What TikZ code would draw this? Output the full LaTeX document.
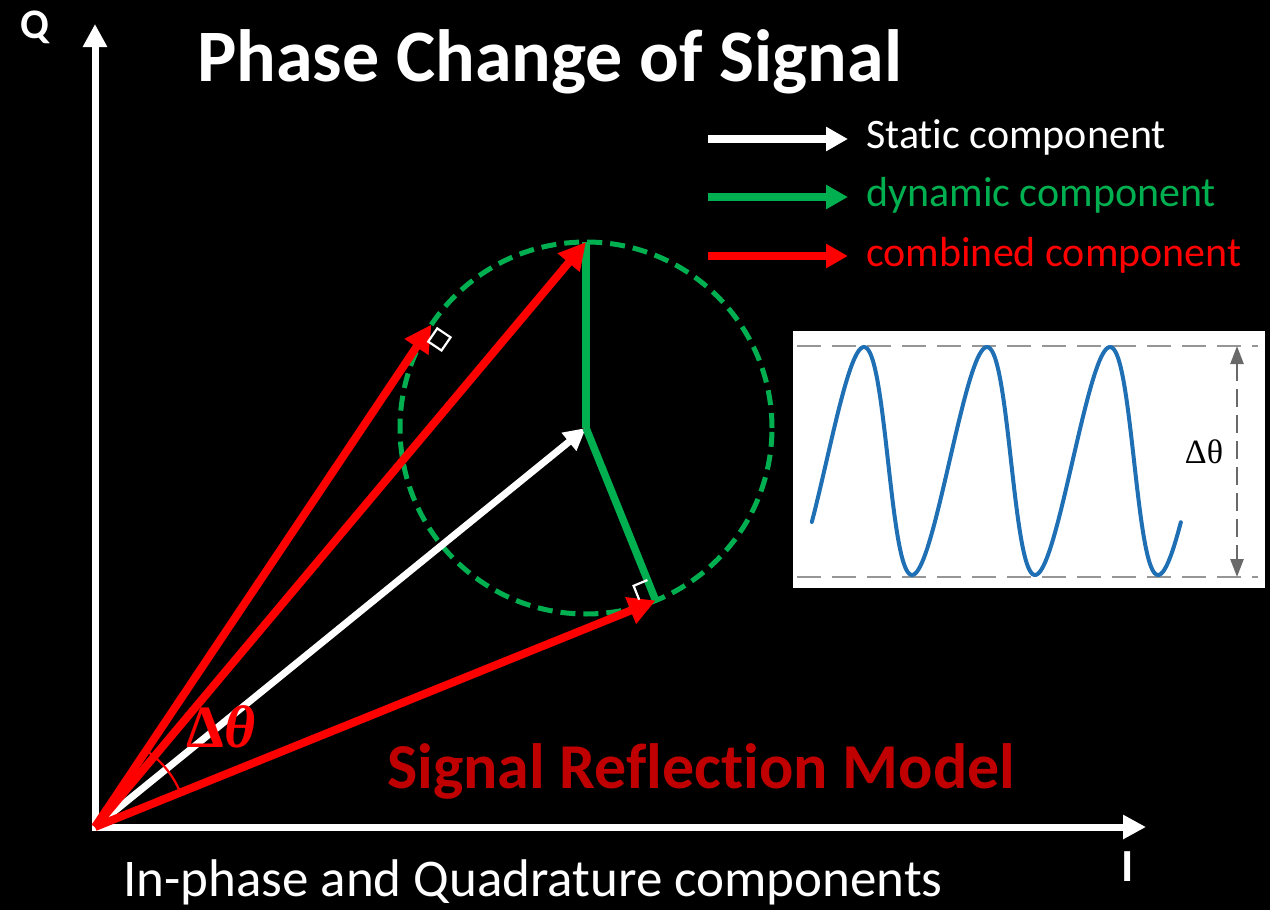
\documentclass[tikz,border=0pt]{standalone}
\usepackage{fontspec}
\setmainfont{Carlito}[Ligatures={TeX,NoCommon}]
\newfontfamily\timesfont{Liberation Serif}
\usetikzlibrary{arrows.meta,calc}
\definecolor{pptgreen}{RGB}{0,176,80}
\definecolor{pptred}{RGB}{255,0,0}
\definecolor{darkred}{RGB}{192,0,0}
\definecolor{waveblue}{RGB}{31,111,180}
\definecolor{guidegray}{RGB}{150,150,150}
\definecolor{spangray}{RGB}{105,105,105}

\begin{document}
\begin{tikzpicture}[x=1pt, y=-1pt,
  axis/.style={white, line width=7pt, -{Triangle[length=23pt, width=23pt]}},
  static/.style={white, line width=7pt, -{Triangle[length=22pt, width=22pt]}},
  dynamic/.style={pptgreen, line width=7.5pt},
  combined/.style={pptred, line width=8pt, -{Triangle[length=27pt, width=27pt]}},
  legarr/.style={line width=8pt, -{Triangle[length=22pt, width=23pt]}},
  legtxt/.style={anchor=base west, inner sep=0pt, font=\fontsize{42}{44}\selectfont},
  rmark/.style={white, line width=2.2pt},
  guide/.style={guidegray, line width=2pt, dash pattern=on 24pt off 11pt}
]

%% -- background and frame --------------------------------------
\fill[black] (0,0) rectangle (1270,910);

%% -- axes ------------------------------------------------------
\coordinate (O) at (95,827);
\coordinate (qend) at (95,24);
\coordinate (iend) at (1146,827);
\draw[axis, shorten <=-3.5pt] (O) -- (qend);
\draw[axis, shorten <=-3.5pt] (O) -- (iend);
\node[white, anchor=base, inner sep=0pt, font=\bfseries\fontsize{42}{44}\selectfont] (qlab) at (35,38) {Q};
\node[white, anchor=base, inner sep=0pt, font=\bfseries\fontsize{46}{48}\selectfont] (ilab) at (1128,881) {I};

%% -- title and captions ----------------------------------------
\node[white, anchor=base west, inner sep=0pt, font=\bfseries\fontsize{74}{76}\selectfont] (title) at (197,81) {Phase Change of Signal};
\node[darkred, anchor=base west, inner sep=0pt, font=\bfseries\fontsize{64}{66}\selectfont] (model) at (387,788) {Signal Reflection Model};
\node[white, anchor=base west, inner sep=0pt, font=\fontsize{53}{55}\selectfont] (iq) at (123,896) {In-phase and Quadrature components};

%% -- legend ----------------------------------------------------
\node[legtxt, white] (lstatic) at (866,148) {Static component};
\node[legtxt, pptgreen] (ldynamic) at (866,206) {dynamic component};
\node[legtxt, pptred] (lcombined) at (866,266) {combined component};
\coordinate (lsa) at (708,139);
\coordinate (lsb) at (848,139);
\coordinate (lda) at (708,197);
\coordinate (ldb) at (848,197);
\coordinate (lca) at (708,256);
\coordinate (lcb) at (848,256);
\draw[legarr, white] (lsa) -- (lsb);
\draw[legarr, pptgreen] (lda) -- (ldb);
\draw[legarr, pptred] (lca) -- (lcb);

%% -- dynamic circle and tangent points -------------------------
\node[circle, draw=pptgreen, line width=5pt, dash pattern=on 15pt off 8pt,
      minimum size=372pt, inner sep=0pt, outer sep=0pt] (circ) at (586,428) {};
\coordinate (t1) at (tangent cs:node=circ, point={(O)}, solution=2);
\coordinate (t2) at (tangent cs:node=circ, point={(O)}, solution=1);

%% -- vectors ---------------------------------------------------
\draw[static] (O) -- (circ.center);
\draw[dynamic] (circ.center) -- (circ.north);
\draw[dynamic] (circ.center) -- (t2);
\draw[combined] (O) -- (t1);
\draw[combined] (O) -- (circ.north);
\draw[combined] (O) -- (t2);

%% right angle marks
\coordinate (t1o) at ($(t1)!7pt!(circ.center)$);
\coordinate (t1a) at ($(t1o)!16pt!(O)$);
\coordinate (t1b) at ($(t1o)!16pt!(circ.center)$);
\draw[rmark] (t1a) -- ($(t1a)+(t1b)-(t1o)$) -- (t1b) -- (t1o) -- cycle;
\coordinate (t2o) at ($(t2)!7pt!(circ.center)$);
\coordinate (t2a) at ($(t2o)!15pt!(O)$);
\coordinate (t2b) at ($(t2o)!15pt!(circ.center)$);
\draw[rmark] (t2a) -- ($(t2a)+(t2b)-(t2o)$) -- (t2b);

%% phase angle
\draw[pptred, line width=2.2pt] ($(O)+(-22:92)$) arc[start angle=-22, end angle=-56, radius=92];
\node[pptred, font=\timesfont\bfseries\fontsize{60}{62}\selectfont] (dtheta) at (221,727) {Δ\textit{θ}};

%% -- inset: phase over time ------------------------------------
\node[fill=white, anchor=north west, inner sep=0pt, minimum width=472pt, minimum height=257pt] (inset) at (793,331) {};
\draw[guide] (797,346) -- (1258,346);
\draw[guide] (797,577) -- (1258,577);
\draw[waveblue, line width=4pt, line cap=round]
  plot[domain=-2.135:16.714, samples=240, variable=\t, smooth]
  ({864 + 19.58*(\t - 0.345*(1-cos(\t r)))}, {461 - 114*cos(\t r)});
\coordinate (spantop) at (1237,346);
\coordinate (spanbot) at (1237,577);
\draw[spangray, line width=2.5pt, dash pattern=on 18pt off 8pt,
      {Triangle[length=18pt, width=13pt]}-{Triangle[length=18pt, width=13pt]}] (spantop) -- (spanbot);
\node[black, font=\timesfont\fontsize{34}{36}\selectfont] (span) at (1204,452) {Δθ};

\end{tikzpicture}
\end{document}
